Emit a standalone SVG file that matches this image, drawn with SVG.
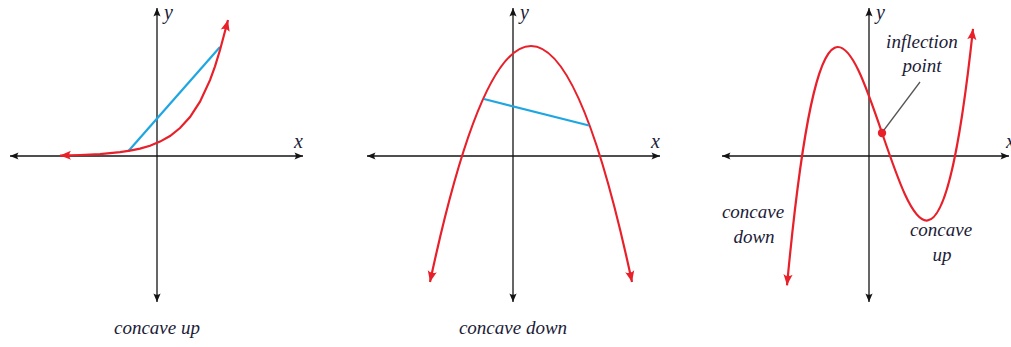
<svg xmlns="http://www.w3.org/2000/svg" width="1011" height="347" viewBox="0 0 1011 347">
<style>
.axis{stroke:#141414;stroke-width:1.3;fill:none;marker-start:url(#ah);marker-end:url(#ah)}
.curve{stroke:#e8202a;stroke-width:2.2;fill:none;marker-start:url(#rh);marker-end:url(#rh)}
.chord{stroke:#1ea6e2;stroke-width:2.2;fill:none}
.lbl{font-family:"Liberation Serif","DejaVu Serif",serif;font-style:italic;font-size:19px;fill:#1c1c38}
.ax{font-family:"Liberation Serif","DejaVu Serif",serif;font-style:italic;font-size:20px;fill:#1c1c38}
.mid{text-anchor:middle}
</style>
<defs>
<marker id="ah" markerUnits="userSpaceOnUse" viewBox="-10 -6 12 12" markerWidth="12" markerHeight="12" refX="0" refY="0" orient="auto-start-reverse">
<path d="M0,0 L-8.5,-3.6 Q-6,0 -8.5,3.6 Z" fill="#141414"/>
</marker>
<marker id="rh" markerUnits="userSpaceOnUse" viewBox="-13 -7 14 14" markerWidth="14" markerHeight="14" refX="0" refY="0" orient="auto-start-reverse">
<path d="M0,0 L-11,-4.6 Q-7.5,0 -11,4.6 Z" fill="#e8202a"/>
</marker>
</defs>
<rect width="1011" height="347" fill="#ffffff"/>

<g id="panel-concave-up">
<line class="axis" x1="10" y1="156" x2="303" y2="156"/>
<line class="axis" x1="157" y1="302" x2="157" y2="8"/>
<text class="ax" x="164" y="19">y</text>
<text class="ax" x="294" y="148">x</text>
<line class="chord" x1="128" y1="151.5" x2="220" y2="47"/>
<polyline class="curve" points="60,155.6 80,155 100,154.05 120,152.2 130,150.7 140,148.6 150,145.7 160,141.6 170,136 180,128 190,117 200,101.6 210,80.1 215,66.3 220,50 224,35 228,20"/>
<text class="lbl mid" x="157" y="334">concave up</text>
</g>

<g id="panel-concave-down">
<line class="axis" x1="367" y1="156" x2="660" y2="156"/>
<line class="axis" x1="513" y1="302" x2="513" y2="8"/>
<text class="ax" x="520" y="19">y</text>
<text class="ax" x="651" y="148">x</text>
<path class="curve" d="M430,282 Q531,-190 632,282"/>
<line class="chord" x1="484" y1="99" x2="589" y2="125.5"/>
<text class="lbl mid" x="513" y="334">concave down</text>
</g>

<g id="panel-inflection">
<line class="axis" x1="722" y1="156" x2="1009" y2="156"/>
<line class="axis" x1="869" y1="302" x2="869" y2="8"/>
<text class="ax" x="876" y="19">y</text>
<text class="ax" x="1006" y="148">x</text>
<path class="curve" d="M787,285.3 C849,-374.5 911,608.2 973,28.8"/>
<circle id="inflection-point" cx="882" cy="133" r="4.2" fill="#e8202a"/>
<text class="lbl mid" x="922" y="48">inflection</text>
<text class="lbl mid" x="922" y="72">point</text>
<text class="lbl mid" x="753" y="218">concave</text>
<text class="lbl mid" x="754" y="243">down</text>
<text class="lbl mid" x="941" y="236">concave</text>
<text class="lbl mid" x="942" y="261">up</text>
</g>

<g id="connectors">
<line x1="884" y1="130" x2="920" y2="82" stroke="#555" stroke-width="1.3"/>
</g>
</svg>
